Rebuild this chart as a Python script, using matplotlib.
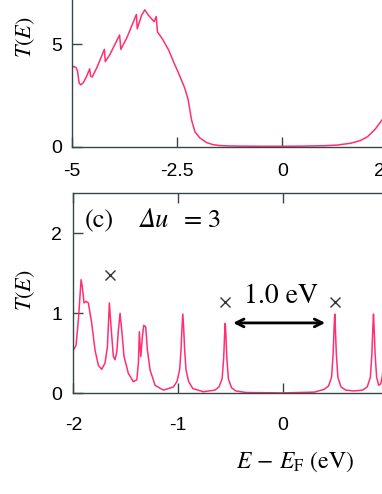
import matplotlib
matplotlib.use("Agg")
from matplotlib import pyplot as plt

# 字体设置
plt.rcParams['font.family'] = ['Liberation Sans', 'DejaVu Sans']
plt.rcParams['mathtext.fontset'] = 'stix'
plt.rcParams['axes.unicode_minus'] = False

# 上图: 透射谱 T(E)
e_top = [-5.00, -4.96, -4.90, -4.87, -4.83, -4.79, -4.74, -4.66, -4.58, -4.56,
         -4.52, -4.40, -4.23, -4.21, -4.10, -3.87, -3.84, -3.70, -3.47, -3.45,
         -3.35, -3.27, -3.18, -3.05, -3.00, -2.97, -2.85, -2.70, -2.59, -2.45,
         -2.32, -2.24, -2.16, -2.08, -1.96, -1.80, -1.65, -1.50, -1.30, -1.00,
         -0.50, 0.00, 0.50, 1.00, 1.30, 1.62, 1.85, 2.02, 2.20, 2.38, 2.60]
t_top = [3.85, 3.92, 3.85, 3.70, 3.10, 3.02, 3.10, 3.40, 3.80, 3.45,
         3.40, 3.90, 4.75, 4.15, 4.50, 5.45, 4.75, 5.30, 6.45, 5.75,
         6.40, 6.68, 6.40, 6.10, 6.35, 5.60, 5.25, 4.70, 4.15, 3.50,
         2.85, 2.28, 1.30, 0.73, 0.42, 0.20, 0.10, 0.06, 0.04, 0.03,
         0.02, 0.02, 0.03, 0.05, 0.08, 0.17, 0.30, 0.49, 0.85, 1.35, 2.10]
top_xticks = [-5, -2.5, 0, 2.5]
top_xlabels = ['-5', '-2.5', '0', '2.5']
top_yticks = [0, 5]

# 下图 (c) Δu = 3
e_bot = [-2.000, -1.974, -1.952, -1.926, -1.914, -1.898, -1.879, -1.857, -1.825, -1.793,
         -1.761, -1.729, -1.697, -1.675, -1.656, -1.640, -1.618, -1.602, -1.585, -1.570,
         -1.554, -1.538, -1.516, -1.475, -1.427, -1.394, -1.379, -1.370, -1.356, -1.341,
         -1.328, -1.309, -1.293, -1.267, -1.220, -1.140, -1.045, -1.010, -0.985, -0.972,
         -0.963, -0.955, -0.947, -0.938, -0.925, -0.900, -0.860, -0.760, -0.650, -0.610,
         -0.580, -0.565, -0.556, -0.550, -0.544, -0.535, -0.520, -0.490, -0.450, -0.350,
         0.000, 0.300, 0.395, 0.435, 0.465, 0.480, 0.489, 0.495, 0.501, 0.510,
         0.525, 0.555, 0.600, 0.680, 0.760, 0.805, 0.835, 0.850, 0.859, 0.865,
         0.871, 0.880, 0.895, 0.915, 0.935, 0.950, 0.965, 0.974, 0.980, 0.986,
         0.995, 1.010]
t_bot = [0.54, 0.60, 0.92, 1.42, 1.33, 1.13, 1.15, 1.13, 0.88, 0.54,
         0.35, 0.30, 0.38, 0.58, 1.13, 0.83, 0.46, 0.42, 0.52, 0.79,
         1.00, 0.79, 0.46, 0.25, 0.145, 0.17, 0.38, 0.77, 0.46, 0.71,
         0.85, 0.83, 0.54, 0.29, 0.10, 0.04, 0.08, 0.15, 0.30, 0.55,
         0.82, 0.99, 0.82, 0.55, 0.30, 0.15, 0.06, 0.02, 0.04, 0.08,
         0.18, 0.44, 0.74, 0.875, 0.74, 0.44, 0.18, 0.07, 0.03, 0.01,
         0.005, 0.015, 0.05, 0.09, 0.20, 0.50, 0.82, 0.99, 0.82, 0.50,
         0.20, 0.08, 0.04, 0.03, 0.04, 0.08, 0.20, 0.50, 0.82, 0.99,
         0.82, 0.50, 0.20, 0.10, 0.12, 0.22, 0.50, 0.82, 0.99, 0.82,
         0.50, 0.20]
bot_xticks = [-2, -1, 0, 1, 2]
bot_yticks = [0, 1, 2]

# 标记 × 的位置
cross_e = [-1.65, -0.55, 0.50]
cross_t = [1.48, 1.14, 1.14]

line_color = '#ff2f72'
axis_color = '#344848'

fig = plt.figure(figsize=(3.82, 4.94), dpi=100)

def style_axes(ax, xpad, ypad):
    for s in ax.spines.values():
        s.set_color(axis_color)
        s.set_linewidth(1.0)
    ax.tick_params(direction='in', length=7, width=1.0, color=axis_color,
                   labelsize=14, top=True, right=True)
    ax.tick_params(axis='x', pad=xpad)
    ax.tick_params(axis='y', pad=ypad)

# 上图
ax1 = fig.add_axes([0.1885, 0.703, 1.102, 0.332])
ax1.plot(e_top, t_top, color=line_color, lw=1.1)
ax1.set_xlim(-5, 5)
ax1.set_ylim(0, 8)
ax1.set_xticks(top_xticks)
ax1.set_xticklabels(top_xlabels)
ax1.set_yticks(top_yticks)
style_axes(ax1, 11.5, 7)
ax1.set_ylabel('$T(E)$', fontsize=16)
ax1.yaxis.set_label_coords(-0.083, 0.67)

# 下图
ax2 = fig.add_axes([0.192, 0.2038, 1.097, 0.4049])
ax2.plot(e_bot, t_bot, color=line_color, lw=1.1)
ax2.set_xlim(-2, 2)
ax2.set_ylim(0, 2.5)
ax2.set_xticks(bot_xticks)
ax2.set_yticks(bot_yticks)
style_axes(ax2, 17, 8)
ax2.set_ylabel('$T(E)$', fontsize=16)
ax2.yaxis.set_label_coords(-0.086, 0.516)
ax2.set_xlabel(r'$E\,-\,E_{\mathrm{F}}$ (eV)', fontsize=17, family='STIXGeneral')
ax2.xaxis.set_label_coords(0.528, -0.3435)
ax2.xaxis.label.set_va('center')

# (c) Δu = 3 分段写, Δu 用斜体
label_parts = [('(c)', 0.061, 'normal'), ('Δu', 0.194, 'italic'),
               ('=', 0.284, 'normal'), ('3', 0.338, 'normal')]
for s, xpos, st in label_parts:
    ax2.text(xpos, 0.83, s, transform=ax2.transAxes, fontsize=19,
             family='STIXGeneral', style=st, ha='center', va='baseline')

ax2.text(-0.016, 1.216, '1.0 eV', fontsize=20, family='STIXGeneral',
         ha='center', va='center')
ax2.plot(cross_e, cross_t, ls='none', marker='x', ms=7.5, mew=1.0, color='#333333')
ax2.annotate('', xy=(0.404, 0.88), xytext=(-0.475, 0.88),
             arrowprops=dict(arrowstyle='<->', lw=2, color='black',
                             mutation_scale=14, shrinkA=0, shrinkB=0))

fig.savefig('out.png', dpi=100)
